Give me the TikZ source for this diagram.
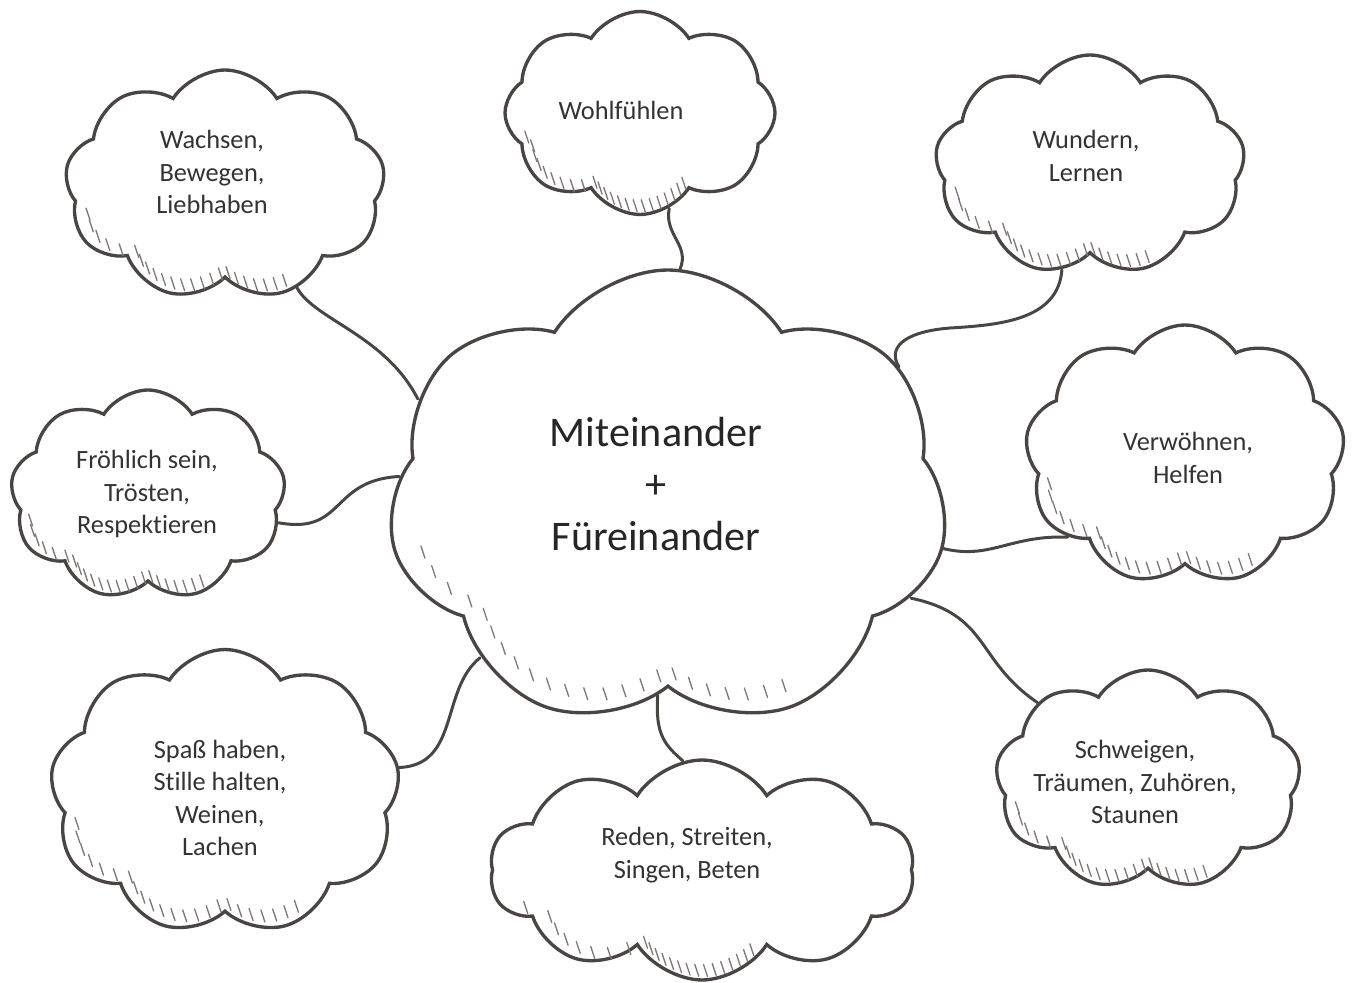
\documentclass[tikz,border=0pt]{standalone}
\usepackage{fontspec}
\setmainfont{Carlito}[RawFeature={-liga}]
\usetikzlibrary{shapes.symbols,calc}

\definecolor{ink}{HTML}{4A4543}
\definecolor{hatchgray}{HTML}{7E7876}

\tikzset{
  cloudbox/.style={cloud, draw=ink, line width=1.9pt, fill=white,
    cloud puffs=#1, cloud puff arc=115, inner sep=0pt},
  cloudbox/.default=9,
  words/.style={align=center, text=black!80, font=\fontsize{15}{18.4}\selectfont},
  bigwords/.style={align=center, text=black!85, font=\fontsize{24}{29.5}\selectfont},
  link/.style={draw=ink, line width=1.7pt, line cap=round},
  hatch/.style={draw=hatchgray, line width=0.75pt, line cap=round}
}

% short slanted strokes inside the lower left of a cloud
\newcommand{\hatchcloud}[1]{%
  \foreach \a in {192,197,...,302}
    \draw[hatch] ($($(#1.\a)!0.1!(#1.center)$)+(-2,-6)$) -- ($($(#1.\a)!0.1!(#1.center)$)+(2,6)$);}

\begin{document}
\begin{tikzpicture}[x=0.02cm,y=-0.02cm]
  \useasboundingbox (0,0) rectangle (1356,983);

  % clouds
  \node[cloudbox=7, minimum width=11.2cm, minimum height=9.2cm] (mit) at (668,500) {};
  \node[cloudbox=8, minimum width=5.4cm, minimum height=4.06cm] (wohl) at (640,113) {};
  \node[cloudbox, minimum width=6.4cm, minimum height=4.6cm] (wachs) at (225,185) {};
  \node[cloudbox, minimum width=6.2cm, minimum height=4.4cm] (wund) at (1090,165) {};
  \node[cloudbox, minimum width=6.4cm, minimum height=5.2cm] (verw) at (1185,455) {};
  \node[cloudbox, minimum width=5.5cm, minimum height=4.2cm] (froh) at (148,495) {};
  \node[cloudbox, minimum width=7.0cm, minimum height=5.7cm] (spass) at (225,792) {};
  \node[cloudbox=10, minimum width=8.5cm, minimum height=4.4cm] (reden) at (702,870) {};
  \node[cloudbox, minimum width=6.1cm, minimum height=4.4cm] (schw) at (1148,780) {};

  \hatchcloud{mit}
  \hatchcloud{wohl}
  \hatchcloud{wachs}
  \hatchcloud{wund}
  \hatchcloud{verw}
  \hatchcloud{froh}
  \hatchcloud{spass}
  \hatchcloud{reden}
  \hatchcloud{schw}

  % texts
  \node[bigwords] (mit-t) at (656,484) {Miteinander\\+\\Füreinander};
  \node[words] (wohl-t) at (621,110) {Wohlfühlen};
  \node[words] (wachs-t) at (212,172) {Wachsen,\\Bewegen,\\Liebhaben};
  \node[words] (wund-t) at (1086,156) {Wundern,\\Lernen};
  \node[words] (verw-t) at (1188,458) {Verwöhnen,\\Helfen};
  \node[words] (froh-t) at (147,494) {Fröhlich sein,\\Trösten,\\Respektieren};
  \node[words] (spass-t) at (220,798) {Spaß haben,\\Stille halten,\\Weinen,\\Lachen};
  \node[words] (reden-t) at (687,855) {Reden, Streiten,\\Singen, Beten};
  \node[words] (schw-t) at (1135,782) {Schweigen,\\Träumen, Zuhören,\\Staunen};

  % connectors
  \draw[link] (wohl.-73) .. controls (664,235) and (690,245) .. (mit.87);
  \draw[link] (wachs.-55) .. controls (315,320) and (385,335) .. (mit.158);
  \draw[link] (wund.-105) .. controls (1058,320) and (1000,325) .. (950,328)
    .. controls (900,332) and (888,350) .. (mit.30);
  \draw[link] (verw.-145) .. controls (1010,535) and (990,560) .. (mit.-10);
  \draw[link] (froh.-12) .. controls (345,535) and (330,480) .. (mit.175);
  \draw[link] (spass.8) .. controls (460,765) and (440,690) .. (mit.-140);
  \draw[link] (reden.100) .. controls (665,745) and (655,735) .. (mit.-93);
  \draw[link] (mit.-22) .. controls (990,615) and (975,660) .. (schw.145);
\end{tikzpicture}
\end{document}
